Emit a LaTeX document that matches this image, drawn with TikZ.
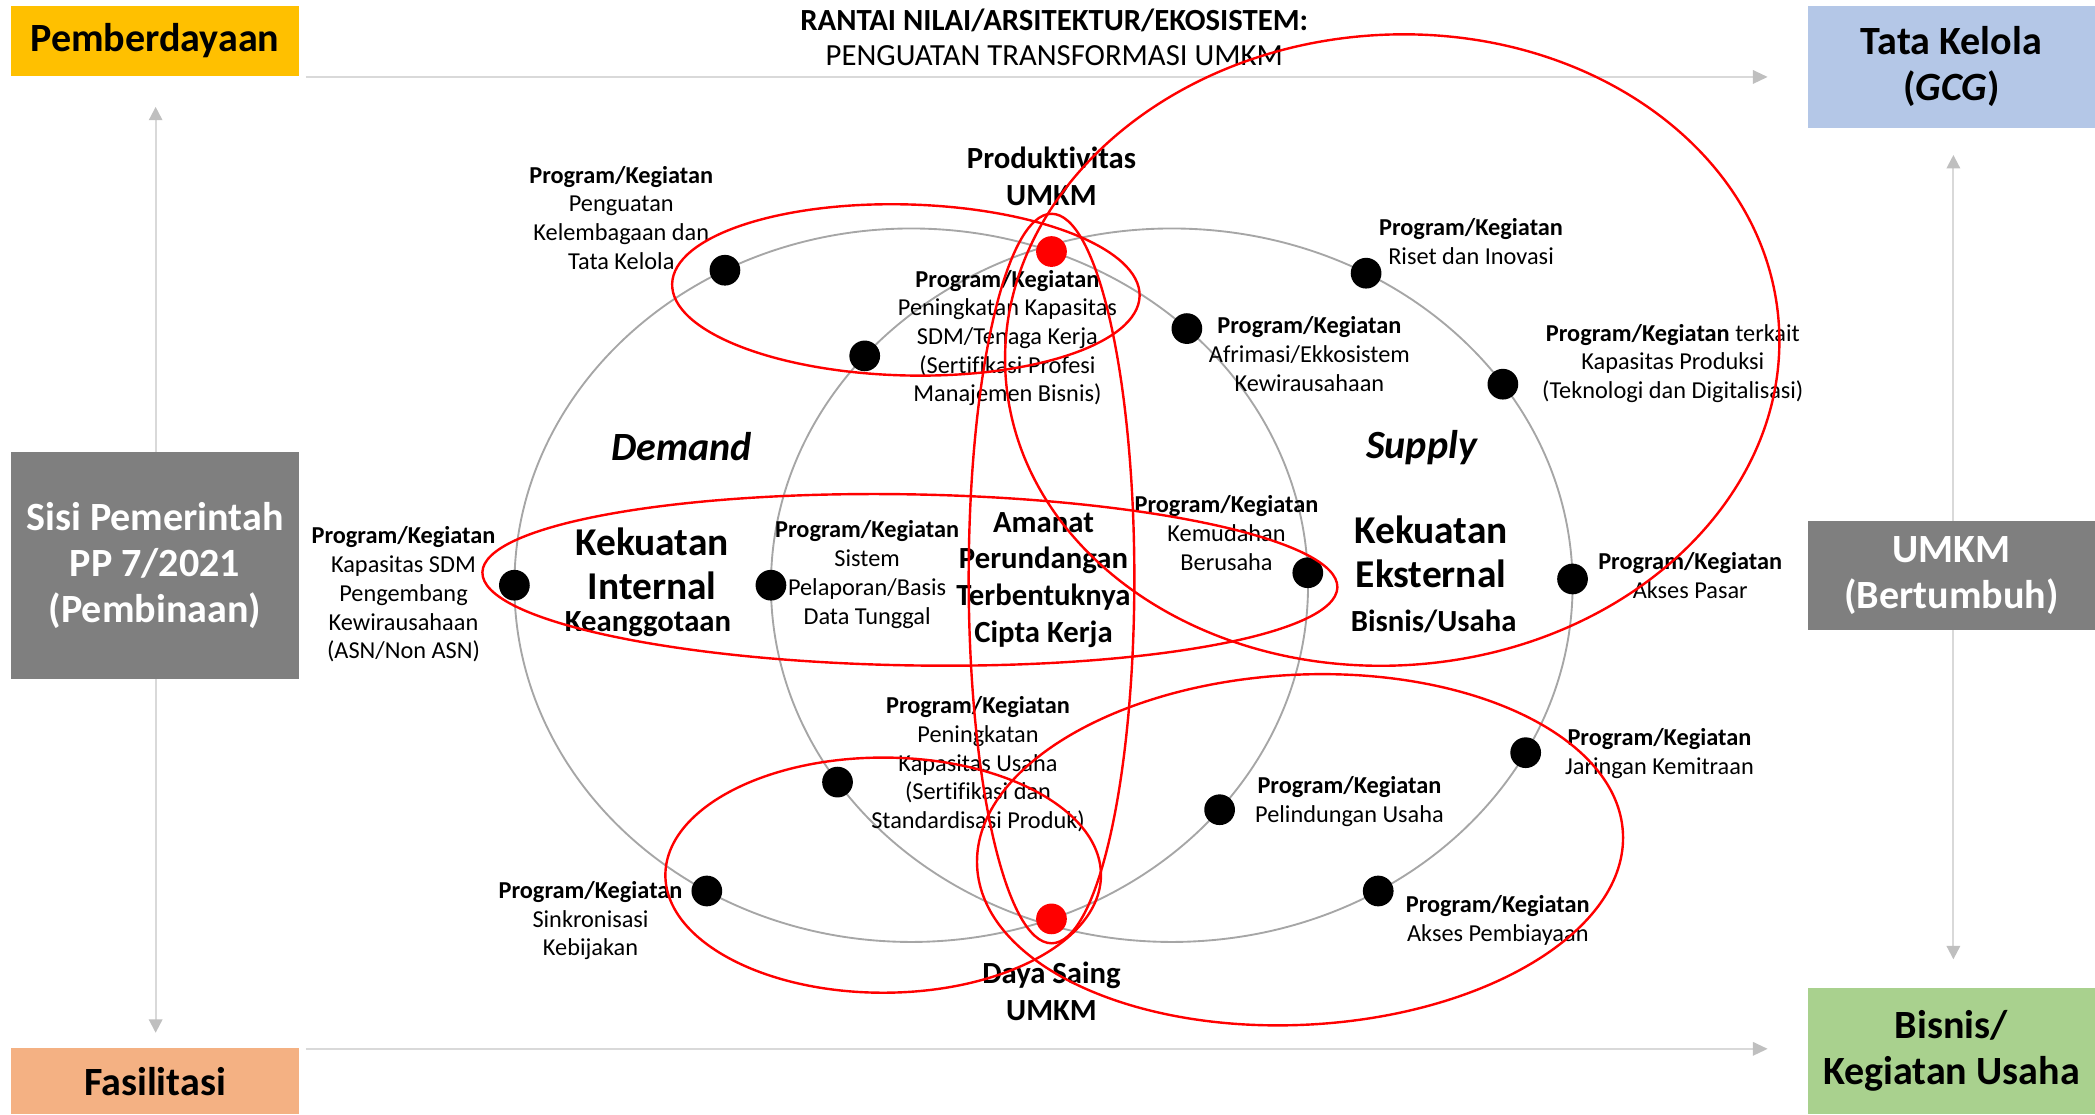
\documentclass[tikz,border=0pt]{standalone}
\usepackage{fontspec}
\setmainfont{Carlito}[Ligatures={NoCommon,NoContextual}]
\usetikzlibrary{arrows.meta,positioning}
\definecolor{pembcol}{HTML}{FFC000}
\definecolor{tatacol}{HTML}{B4C7E7}
\definecolor{sidecol}{HTML}{7F7F7F}
\definecolor{fascol}{HTML}{F4B183}
\definecolor{biscol}{HTML}{A9D18E}
\definecolor{flowcol}{HTML}{D9D9D9}
\definecolor{headcol}{HTML}{BFBFBF}
\definecolor{ringcol}{HTML}{A6A6A6}
\begin{document}
\begin{tikzpicture}[x=1pt,y=1pt,
  sidebox/.style={inner sep=0pt,align=center,font=\fontsize{30}{34.5}\selectfont\bfseries},
  flow/.style={flowcol,line width=1.5pt,-{Triangle[length=11pt,width=10pt,color=headcol]}},
  vflow/.style={flowcol,line width=1.5pt,{Triangle[length=10pt,width=10pt,color=headcol]}-{Triangle[length=10pt,width=10pt,color=headcol]}},
  grayring/.style={ringcol,line width=1.4pt},
  redloop/.style={red,line width=1.8pt},
  bdot/.style={circle,fill=black,inner sep=0pt,minimum size=23pt},
  rdot/.style={bdot,fill=red},
  prog/.style={align=center,inner sep=0pt,font=\fontsize{18.2}{21.5}\selectfont},
  headlbl/.style={align=center,inner sep=0pt,font=\fontsize{23}{27.5}\selectfont\bfseries},
  sidelbl/.style={inner sep=0pt,font=\fontsize{30}{34}\selectfont\bfseries\itshape},
  kekuatan/.style={align=center,inner sep=0pt,font=\fontsize{29.5}{32.5}\selectfont\bfseries}]
\useasboundingbox (0,0) rectangle (1568,-834);

\coordinate (topL) at (229,-57.6);
\coordinate (topR) at (1323,-57.6);
\coordinate (botL) at (229,-785);
\coordinate (botR) at (1323,-785);
\coordinate (leftT) at (116.5,-80);
\coordinate (leftB) at (116.5,-773);
\coordinate (rightT) at (1462,-116);
\coordinate (rightB) at (1462,-718);
\draw[flow] (topL) -- (topR);
\draw[flow] (botL) -- (botR);
\draw[vflow] (leftT) -- (leftB);
\draw[vflow] (rightT) -- (rightB);

\node[sidebox,fill=pembcol,minimum width=216pt,minimum height=52.5pt] (pember) at (116,-30.75) {Pemberdayaan};
\node[sidebox,fill=tatacol,minimum width=215pt,minimum height=91pt] (tata) at (1460.5,-50) {Tata Kelola\\(\textit{GCG})};
\node[sidebox,fill=sidecol,text=white,minimum width=216pt,minimum height=170pt] (sisi) at (116,-423) {Sisi Pemerintah\\PP 7/2021\\(Pembinaan)};
\node[sidebox,fill=sidecol,text=white,minimum width=215pt,minimum height=81.5pt] (umkm) at (1460.5,-431) {UMKM\\(Bertumbuh)};
\node[sidebox,fill=fascol,minimum width=216pt,minimum height=49.5pt] (fasil) at (116,-809.25) {Fasilitasi};
\node[sidebox,fill=biscol,minimum width=215pt,minimum height=94.5pt] (bisnis) at (1460.5,-786.75) {Bisnis/\\Kegiatan Usaha};

\node[align=center,inner sep=0pt,font=\fontsize{23}{26}\selectfont] (title) at (789,-28) {\textbf{RANTAI NILAI/ARSITEKTUR/EKOSISTEM:}\\PENGUATAN TRANSFORMASI UMKM};

\coordinate (dem) at (682,-438);
\coordinate (sup) at (877,-438);
\draw[grayring] (dem) ellipse (297 and 267);
\draw[grayring] (sup) ellipse (300 and 267);

\path (dem) ++(118:297 and 267) node[bdot] (dKel) {};
\path (dem) ++(180:297 and 267) node[bdot] (dSDM) {};
\path (dem) ++(239:297 and 267) node[bdot] (dSink) {};
\path (dem) ++(46:297 and 267) node[bdot] (dAfr) {};
\path (dem) ++(2:297 and 267) node[bdot] (dMud) {};
\path (dem) ++(321:297 and 267) node[bdot] (dLin) {};
\path (sup) ++(140:300 and 267) node[bdot] (dTen) {};
\path (sup) ++(180:300 and 267) node[bdot] (dLap) {};
\path (sup) ++(213.5:300 and 267) node[bdot] (dUsa) {};
\path (sup) ++(61:300 and 267) node[bdot] (dRis) {};
\path (sup) ++(34.3:300 and 267) node[bdot] (dPro) {};
\path (sup) ++(1:300 and 267) node[bdot] (dPas) {};
\path (sup) ++(332:300 and 267) node[bdot] (dMit) {};
\path (sup) ++(301:300 and 267) node[bdot] (dBiaya) {};
\path (dem) ++(69.3:297 and 267) node[rdot] (pTop) {};
\path (dem) ++(-69.3:297 and 267) node[rdot] (pBot) {};

\node[prog] (lKel) at (465,-163) {\textbf{Program/Kegiatan}\\Penguatan\\Kelembagaan dan\\Tata Kelola};
\node[prog] (lTen) at (754,-253) {\textbf{Program/Kegiatan}\\Peningkatan Kapasitas\\SDM/Tenaga Kerja\\(Sertifikasi Profesi\\Manajemen Bisnis)};
\node[prog] (lAfr) at (980,-265) {\textbf{Program/Kegiatan}\\Afrimasi/Ekkosistem\\Kewirausahaan};
\node[prog] (lRis) at (1101,-181) {\textbf{Program/Kegiatan}\\Riset dan Inovasi};
\node[prog] (lPro) at (1252,-272) {\textbf{Program/Kegiatan} terkait\\Kapasitas Produksi\\(Teknologi dan Digitalisasi)};
\node[prog] (lSDM) at (302,-445) {\textbf{Program/Kegiatan}\\Kapasitas SDM\\Pengembang\\Kewirausahaan\\(ASN/Non ASN)};
\node[prog] (lLap) at (649,-430) {\textbf{Program/Kegiatan}\\Sistem\\Pelaporan/Basis\\Data Tunggal};
\node[prog] (lMud) at (918,-399) {\textbf{Program/Kegiatan}\\Kemudahan\\Berusaha};
\node[prog] (lPas) at (1265,-431) {\textbf{Program/Kegiatan}\\Akses Pasar};
\node[prog] (lUsa) at (732,-572) {\textbf{Program/Kegiatan}\\Peningkatan\\Kapasitas Usaha\\(Sertifikasi dan\\Standardisasi Produk)};
\node[prog] (lLin) at (1010,-600) {\textbf{Program/Kegiatan}\\Pelindungan Usaha};
\node[prog] (lMit) at (1242,-564) {\textbf{Program/Kegiatan}\\Jaringan Kemitraan};
\node[prog] (lBiaya) at (1121,-689) {\textbf{Program/Kegiatan}\\Akses Pembiayaan};
\node[prog] (lSink) at (442,-689) {\textbf{Program/Kegiatan}\\Sinkronisasi\\Kebijakan};

\node[headlbl] (prod) at (787,-132) {Produktivitas\\UMKM};
\node[headlbl] (daya) at (787,-742) {Daya Saing\\UMKM};
\node[headlbl] (amanat) at (781,-434) {Amanat\\Perundangan\\Terbentuknya\\Cipta Kerja};
\node[sidelbl] (demand) at (510,-334) {Demand};
\node[sidelbl] (supply) at (1064,-335) {Supply};
\node[kekuatan] (kin) at (488,-422) {Kekuatan\\Internal};
\node[headlbl] (kang) at (485,-467) {Keanggotaan};
\node[kekuatan] (kek) at (1071,-413) {Kekuatan\\Eksternal};
\node[headlbl] (kbis) at (1073,-465) {Bisnis/Usaha};

\draw[redloop,rotate around={-1.5:(678,-217)}] (678,-217) ellipse (175 and 64);
\draw[redloop,rotate around={-1:(681,-434)}] (681,-434) ellipse (320 and 64);
\draw[redloop,rotate around={4:(1042,-262)}] (1042,-262) ellipse (290 and 236);
\draw[redloop] (787,-433) ellipse (62 and 273);
\draw[redloop] (661,-655) ellipse (163 and 88);
\draw[redloop,rotate around={3:(973,-636)}] (973,-636) ellipse (242 and 131);
\end{tikzpicture}
\end{document}
